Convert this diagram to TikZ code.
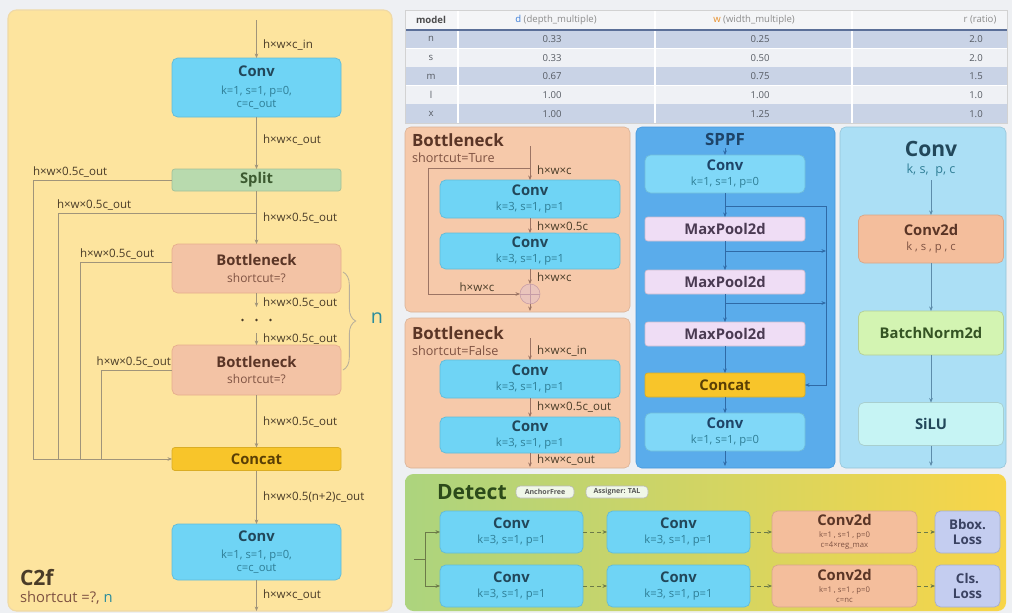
\documentclass[tikz,border=0pt]{standalone}
\usepackage{fontspec}
\setmainfont{Open Sans}
\usetikzlibrary{arrows.meta,decorations.pathreplacing}

% colours
\definecolor{pagebg}{HTML}{EEF0F3}
\definecolor{c2fbg}{HTML}{FDE49E}
\definecolor{c2fedge}{HTML}{EFD9A6}
\definecolor{c2fline}{HTML}{A0947A}
\definecolor{labtxt}{HTML}{4A3C28}
\definecolor{convfill}{HTML}{6FD4F5}
\definecolor{convtxt}{HTML}{22475A}
\definecolor{convsub}{HTML}{2F7E96}
\definecolor{splitfill}{HTML}{B8DAAE}
\definecolor{splittxt}{HTML}{3C5A30}
\definecolor{bnfill}{HTML}{F3C3A5}
\definecolor{bnedge}{HTML}{E6AE8E}
\definecolor{bntxt}{HTML}{5A3526}
\definecolor{bnsub}{HTML}{7E5242}
\definecolor{catfill}{HTML}{F8C52A}
\definecolor{cattxt}{HTML}{5A3F05}
\definecolor{nteal}{HTML}{2A8C9C}
\definecolor{bnpanel}{HTML}{F6C9AA}
\definecolor{bnline}{HTML}{9C7464}
\definecolor{addfill}{HTML}{EAC4BC}
\definecolor{addedge}{HTML}{C69CA6}
\definecolor{spbg}{HTML}{5AACEB}
\definecolor{spedge}{HTML}{4898DC}
\definecolor{spconv}{HTML}{80D8F8}
\definecolor{sptxt}{HTML}{1E4468}
\definecolor{spline}{HTML}{2F6AA6}
\definecolor{poolfill}{HTML}{EFDDF5}
\definecolor{pooltxt}{HTML}{4A3A52}
\definecolor{cvbg}{HTML}{ABDFF5}
\definecolor{cvline}{HTML}{5D8CAA}
\definecolor{c2dfill}{HTML}{F4BE9C}
\definecolor{bnormfill}{HTML}{D3F4B2}
\definecolor{bnormtxt}{HTML}{355424}
\definecolor{silufill}{HTML}{C6F4F4}
\definecolor{detgreen}{HTML}{ACD47E}
\definecolor{detyellow}{HTML}{F8D548}
\definecolor{dettxt}{HTML}{2C4A1A}
\definecolor{detline}{HTML}{6C7A48}
\definecolor{lossfill}{HTML}{C4CDF0}
\definecolor{losstxt}{HTML}{3A4262}
\definecolor{tabdark}{HTML}{C9D3E6}
\definecolor{tablight}{HTML}{EFF1F5}
\definecolor{tabhead}{HTML}{F4F5F7}
\definecolor{tabrule}{HTML}{5B6F98}
\definecolor{tabtxt}{HTML}{555A62}
\definecolor{dblue}{HTML}{3C7DD8}
\definecolor{worange}{HTML}{E8902C}

% font sizes
\newcommand{\blocktitle}{\fontsize{10.5}{12.5}\selectfont\bfseries}
\newcommand{\blocksub}{\fontsize{8}{9.5}\selectfont}
\newcommand{\flowlab}{\fontsize{8.2}{9}\selectfont}
\newcommand{\paneltitle}{\fontsize{12}{14}\selectfont\bfseries}
\newcommand{\bigtitle}{\fontsize{15}{16}\selectfont\bfseries}

\begin{document}
\begin{tikzpicture}[x=0.025cm, y=-0.025cm,
    every node/.style={inner sep=0pt, outer sep=0pt, align=center},
    boxwh/.style 2 args={minimum width=#1*0.025cm, minimum height=#2*0.025cm},
    block/.style={rounded corners=4pt, line width=0.5pt, font=\blocksub},
    convblk/.style={block, fill=convfill, draw=convfill!88!black, text=convtxt},
    spconvblk/.style={block, fill=spconv, draw=spconv!88!black, text=sptxt},
    splitblk/.style={block, rounded corners=2pt, fill=splitfill, draw=splitfill!88!black, text=splittxt},
    bnblk/.style={block, fill=bnfill, draw=bnedge, text=bntxt},
    catblk/.style={block, rounded corners=2pt, fill=catfill, draw=catfill!88!black, text=cattxt},
    poolblk/.style={block, rounded corners=2pt, fill=poolfill, draw=poolfill!85!black, text=pooltxt},
    c2dblk/.style={block, fill=c2dfill, draw=c2dfill!88!black, text=bntxt},
    bnormblk/.style={block, fill=bnormfill, draw=bnormfill!85!black, text=bnormtxt},
    silublk/.style={block, fill=silufill, draw=silufill!85!black, text=convtxt},
    lossblk/.style={block, fill=lossfill, draw=lossfill!85!black, text=losstxt},
    pill/.style={rounded corners=3pt, fill=white!82!detgreen, draw=gray!55, font=\fontsize{5}{5.5}\selectfont\bfseries, text=black!65},
    flow/.style={draw=#1, line width=0.45pt, -{Stealth[length=3.2pt, width=2.6pt]}},
    dashflow/.style={flow=#1, densely dashed},
    link/.style={draw=#1, line width=0.45pt},
    lab/.style={font=\flowlab, text=labtxt, anchor=west},
    tabtext/.style={font=\fontsize{6.8}{7}\selectfont, text=tabtxt},
  ]

  % page
  \useasboundingbox (0,0) rectangle (1012,613);
  \fill[pagebg] (0,0) rectangle (1012,613);

  %----------------------------------------------------------------
  % C2f block (left)
  \draw[c2fedge, fill=c2fbg, rounded corners=6pt, line width=0.8pt] (8,10) rectangle (392,611);

  \coordinate (c2fin) at (256.5,20);
  \node[convblk, boxwh={169}{59}] (c2fconv1) at (256.5,87.5)
    {{\blocktitle Conv}\\[3pt]\textcolor{convsub}{k=1, s=1, p=0,}\\\textcolor{convsub}{c=c\_out}};
  \node[splitblk, boxwh={169}{22}] (split) at (256.5,180) {\blocktitle Split};
  \node[bnblk, boxwh={169}{49}] (bneck1) at (256.5,268.5)
    {{\blocktitle Bottleneck}\\[2pt]\textcolor{bnsub}{\fontsize{8.5}{9}\selectfont shortcut=?}};
  \node[bnblk, boxwh={169}{50}] (bneck2) at (256.5,370)
    {{\blocktitle Bottleneck}\\[2pt]\textcolor{bnsub}{\fontsize{8.5}{9}\selectfont shortcut=?}};
  \node[catblk, boxwh={169}{23}] (concat) at (256.5,459) {\blocktitle Concat};
  \node[convblk, boxwh={169}{56}] (c2fconv2) at (256.5,552)
    {{\blocktitle Conv}\\[3pt]\textcolor{convsub}{k=1, s=1, p=0,}\\\textcolor{convsub}{c=c\_out}};
  \coordinate (c2fout) at (256.5,611);
  \coordinate (dotsup) at (256.5,307);
  \coordinate (dotsdown) at (256.5,333);
  \coordinate (tap) at (256.5,213);

  % main path
  \draw[flow=c2fline] (c2fin) -- (c2fconv1);
  \draw[flow=c2fline] (c2fconv1) -- (split);
  \draw[flow=c2fline] (split) -- (bneck1);
  \draw[flow=c2fline] (bneck1) -- (dotsup);
  \draw[flow=c2fline] (dotsdown) -- (bneck2);
  \draw[flow=c2fline] (bneck2) -- (concat);
  \draw[flow=c2fline] (concat) -- (c2fconv2);
  \draw[flow=c2fline] (c2fconv2) -- (c2fout);
  \foreach \dx in {-14,0,14}
    \fill[labtxt] (256.5+\dx,320) circle (0.9pt);

  % side branches into Concat
  \draw[flow=c2fline] (split.west) -- (33,180) -- (33,459) -- (concat.west);
  \draw[link=c2fline] (tap) -- (58,213) -- (58,459);
  \draw[link=c2fline] (bneck1.west |- 0,262) -- (80,262) -- (80,459);
  \draw[link=c2fline] (bneck2.west |- 0,370) -- (101,370) -- (101,459);

  % tensor sizes
  \node[lab] (lcin) at (263,45) {h×w×c\_in};
  \node[lab] (lcout) at (263,140) {h×w×c\_out};
  \node[lab] (lhalf1) at (263,218) {h×w×0.5c\_out};
  \node[lab] (lhalf2) at (263,303) {h×w×0.5c\_out};
  \node[lab] (lhalf3) at (263,339) {h×w×0.5c\_out};
  \node[lab] (lhalf4) at (263,422) {h×w×0.5c\_out};
  \node[lab] (lcat) at (263,497) {h×w×0.5(n+2)c\_out};
  \node[lab] (lout) at (263,595) {h×w×c\_out};
  \node[lab, anchor=south west] (lsplit) at (33,177) {h×w×0.5c\_out};
  \node[lab, anchor=south west] (ltap) at (57,210) {h×w×0.5c\_out};
  \node[lab, anchor=south west] (lb1) at (80,259) {h×w×0.5c\_out};
  \node[lab, anchor=south east] (lb2) at (171,367) {h×w×0.5c\_out};

  % n repeats
  \draw[c2fline!75, decorate, decoration={brace, amplitude=9pt}, line width=0.6pt] (343,272) -- (343,370);
  \node[text=nteal, font=\fontsize{14}{14}\selectfont] (nrep) at (377,318) {n};

  \node[anchor=west, font=\bigtitle, text=labtxt] (c2ftitle) at (20,578) {C2f};
  \node[anchor=west, font=\fontsize{10.5}{11}\selectfont, text=bnsub] (c2fargs) at (20,598) {shortcut =?, \textcolor{nteal}{n}};

  %----------------------------------------------------------------
  % scaling table
  \pgfmathsetmacro{\rowh}{18.6}
  \fill[tabhead] (405,10) rectangle (1007,30);
  \foreach \m/\d/\w/\r [count=\i] in {n/0.33/0.25/2.0, s/0.33/0.50/2.0, m/0.67/0.75/1.5, l/1.00/1.00/1.0, x/1.00/1.25/1.0} {
    \pgfmathsetmacro{\ytop}{30+(\i-1)*\rowh}
    \pgfmathsetmacro{\ymid}{\ytop+\rowh/2}
    \ifodd\i
      \fill[tabdark] (405,\ytop) rectangle (1007,\ytop+\rowh);
    \else
      \fill[tablight] (405,\ytop) rectangle (1007,\ytop+\rowh);
    \fi
    \draw[white, line width=0.6pt] (405,\ytop+\rowh) -- (1007,\ytop+\rowh);
    \node[tabtext] (tm\i) at (431,\ymid) {\m};
    \node[tabtext] (td\i) at (552,\ymid) {\d};
    \node[tabtext] (tw\i) at (760,\ymid) {\w};
    \node[tabtext] (tr\i) at (976,\ymid) {\r};
  }
  \foreach \cx in {458,655,852}
    \draw[white, line width=0.8pt] (\cx,10) -- (\cx,123);
  \draw[tabrule, line width=1.1pt] (405,30) -- (1007,30);
  \draw[gray!35, line width=0.4pt] (405,10) rectangle (1007,123);
  \node[tabtext, font=\fontsize{6.8}{7}\selectfont\bfseries, text=black!70] (thm) at (431,20) {model};
  \node[tabtext, text=black!45] (thd) at (556,20) {\textcolor{dblue}{d} (depth\_multiple)};
  \node[tabtext, text=black!45] (thw) at (754,20) {\textcolor{worange}{w} (width\_multiple)};
  \node[tabtext, text=black!45] (thr) at (980,20) {r (ratio)};

  %----------------------------------------------------------------
  % Bottleneck, shortcut=True
  \draw[bnpanel!88!black, fill=bnpanel, rounded corners=4pt] (405,127) rectangle (630,312);
  \node[anchor=west, font=\paneltitle, text=bntxt] (bttitle) at (412,140) {Bottleneck};
  \node[anchor=west, font=\fontsize{9}{9}\selectfont, text=bnsub] (btarg) at (412,158) {shortcut=Ture};
  \coordinate (btin) at (530,146);
  \coordinate (bttap) at (530,168);
  \node[convblk, boxwh={180}{38}] (btconv1) at (530,199)
    {{\blocktitle Conv}\\[1pt]\textcolor{convsub}{k=3, s=1, p=1}};
  \node[convblk, boxwh={180}{36}] (btconv2) at (530,251)
    {{\blocktitle Conv}\\[1pt]\textcolor{convsub}{k=3, s=1, p=1}};
  \node[circle, draw=addedge, fill=addfill, minimum size=20*0.025cm] (btadd) at (530,294) {};
  \draw[addedge] (btadd.north) -- (btadd.south) (btadd.west) -- (btadd.east);
  \coordinate (btout) at (530,311);

  \draw[flow=bnline] (btin) -- (btconv1);
  \draw[flow=bnline] (btconv1) -- (btconv2);
  \draw[flow=bnline] (btconv2) -- (btadd);
  \draw[flow=bnline] (btadd) -- (btout);
  \draw[flow=bnline] (bttap) -- (428,168) -- (428,294) -- (btadd.west);

  \node[lab] (btl1) at (537,170) {h×w×c};
  \node[lab] (btl2) at (537,226) {h×w×0.5c};
  \node[lab] (btl3) at (537,277) {h×w×c};
  \node[lab, anchor=center] (btl4) at (477,287) {h×w×c};

  %----------------------------------------------------------------
  % Bottleneck, shortcut=False
  \draw[bnpanel!88!black, fill=bnpanel, rounded corners=4pt] (405,318) rectangle (630,468);
  \node[anchor=west, font=\paneltitle, text=bntxt] (bftitle) at (412,333) {Bottleneck};
  \node[anchor=west, font=\fontsize{9}{9}\selectfont, text=bnsub] (bfarg) at (412,351) {shortcut=False};
  \coordinate (bfin) at (530,338);
  \node[convblk, boxwh={180}{38}] (bfconv1) at (530,379)
    {{\blocktitle Conv}\\[1pt]\textcolor{convsub}{k=3, s=1, p=1}};
  \node[convblk, boxwh={180}{36}] (bfconv2) at (530,435)
    {{\blocktitle Conv}\\[1pt]\textcolor{convsub}{k=3, s=1, p=1}};
  \coordinate (bfout) at (530,467);

  \draw[flow=bnline] (bfin) -- (bfconv1);
  \draw[flow=bnline] (bfconv1) -- (bfconv2);
  \draw[flow=bnline] (bfconv2) -- (bfout);

  \node[lab] (bfl1) at (537,351) {h×w×c\_in};
  \node[lab] (bfl2) at (537,407) {h×w×0.5c\_out};
  \node[lab] (bfl3) at (537,460) {h×w×c\_out};

  %----------------------------------------------------------------
  % SPPF
  \draw[spedge, fill=spbg, rounded corners=4pt] (636,127) rectangle (835,468);
  \node[font=\paneltitle, text=sptxt] (sptitle) at (725,139) {SPPF};
  \coordinate (spin) at (725,148);
  \node[spconvblk, boxwh={160}{38}] (spconv1) at (725,174)
    {{\blocktitle Conv}\\[1pt]\textcolor{convsub}{k=1, s=1, p=0}};
  \node[poolblk, boxwh={160}{24}] (pool1) at (725,229) {\blocktitle MaxPool2d};
  \node[poolblk, boxwh={160}{24}] (pool2) at (725,282) {\blocktitle MaxPool2d};
  \node[poolblk, boxwh={160}{24}] (pool3) at (725,334) {\blocktitle MaxPool2d};
  \node[catblk, boxwh={160}{24}] (spcat) at (725,385) {\blocktitle Concat};
  \node[spconvblk, boxwh={160}{38}] (spconv2) at (725,432)
    {{\blocktitle Conv}\\[1pt]\textcolor{convsub}{k=1, s=1, p=0}};
  \coordinate (spout) at (725,466);
  \coordinate (bus0) at (725,206);
  \coordinate (bus1) at (725,251);
  \coordinate (bus2) at (725,303);

  \draw[flow=spline] (spin) -- (spconv1);
  \draw[flow=spline] (spconv1) -- (pool1);
  \draw[flow=spline] (pool1) -- (pool2);
  \draw[flow=spline] (pool2) -- (pool3);
  \draw[flow=spline] (pool3) -- (spcat);
  \draw[flow=spline] (spcat) -- (spconv2);
  \draw[flow=spline] (spconv2) -- (spout);
  \draw[flow=spline] (bus0) -- (826,206) -- (826,385) -- (spcat.east);
  \draw[flow=spline] (bus1) -- (826,251);
  \draw[flow=spline] (bus2) -- (826,303);

  %----------------------------------------------------------------
  % Conv = Conv2d + BN + SiLU
  \draw[cvbg!88!black, fill=cvbg, rounded corners=4pt] (840,127) rectangle (1006,468);
  \node[font=\bigtitle, text=convtxt] (cvtitle) at (931,149) {Conv};
  \node[font=\fontsize{9}{9}\selectfont, text=convsub] (cvargs) at (931,170) {k, s,\ \ p, c};
  \coordinate (cvin) at (931,180);
  \node[c2dblk, boxwh={145}{48}] (cvconv2d) at (931,239)
    {{\blocktitle Conv2d}\\[1pt]\textcolor{bnsub}{k , s , p , c}};
  \node[bnormblk, boxwh={145}{44}] (cvbn) at (931,333) {\blocktitle BatchNorm2d};
  \node[silublk, boxwh={145}{43}] (cvsilu) at (931,424) {\blocktitle SiLU};
  \coordinate (cvout) at (931,466);

  \draw[flow=cvline] (cvin) -- (cvconv2d);
  \draw[flow=cvline] (cvconv2d) -- (cvbn);
  \draw[flow=cvline] (cvbn) -- (cvsilu);
  \draw[flow=cvline] (cvsilu) -- (cvout);

  %----------------------------------------------------------------
  % Detect head
  \shade[left color=detgreen, right color=detyellow, rounded corners=6pt] (405,474) rectangle (1006,611);
  \node[anchor=west, font=\bigtitle, text=dettxt] (dettitle) at (437,492) {Detect};
  \node[pill, boxwh={58}{12}] (anchorfree) at (545,492) {AnchorFree};
  \node[pill, boxwh={62}{12}] (assigner) at (617,492) {Assigner: TAL};

  \coordinate (detsrc) at (414,559);
  \coordinate (detfork) at (425,559);
  \foreach \r/\ry/\cch/\ls in {1/532/{c=4×reg\_max}/{Bbox.}, 2/586/{c=nc}/{Cls.}} {
    \node[convblk, boxwh={143}{42}] (dconva\r) at (511.5,\ry)
      {{\blocktitle Conv}\\[1pt]\textcolor{convsub}{k=3, s=1, p=1}};
    \node[convblk, boxwh={143}{42}] (dconvb\r) at (678.5,\ry)
      {{\blocktitle Conv}\\[1pt]\textcolor{convsub}{k=3, s=1, p=1}};
    \node[c2dblk, boxwh={145}{42}, font=\fontsize{5.5}{7}\selectfont] (dconvc\r) at (844.5,\ry)
      {{\blocktitle Conv2d}\\[1.5pt]\textcolor{bnsub}{k=1 , s=1 , p=0}\\\textcolor{bnsub}{\cch}};
    \node[lossblk, boxwh={65}{42}, font=\fontsize{9.5}{11}\selectfont\bfseries] (dloss\r) at (967.5,\ry)
      {\ls\\Loss};
    \draw[flow=detline] (detfork) |- (dconva\r.west);
    \draw[dashflow=detline] (dconva\r) -- (dconvb\r);
    \draw[dashflow=detline] (dconvb\r) -- (dconvc\r);
    \draw[dashflow=detline] (dconvc\r) -- (dloss\r);
  }
  \draw[link=detline] (detsrc) -- (detfork);

\end{tikzpicture}
\end{document}
